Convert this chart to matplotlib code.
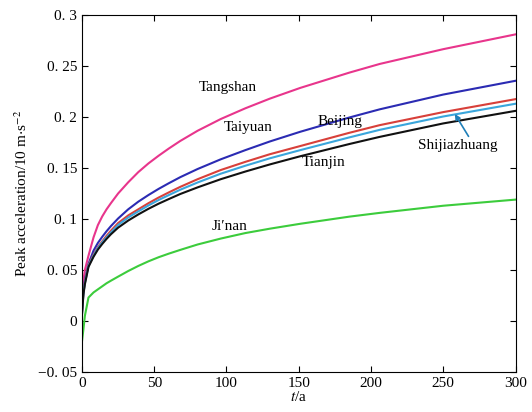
#!/usr/bin/env python3
"""
Peak acceleration vs. return period for six cities
Usage: python plot.py
"""

import matplotlib
matplotlib.use('Agg')
import matplotlib.pyplot as plt

# Time axis (years) shared by all curves
t_years = [0, 1, 2, 4.5, 8, 11, 14, 17, 20, 25, 32, 39, 46, 53, 60, 68, 80, 96,
           113, 130, 151, 185, 206, 250, 300]

# Peak acceleration per city (10 m/s^2)
tangshan = [0.024, 0.040, 0.050, 0.064, 0.082, 0.094, 0.1025, 0.1095, 0.1155, 0.125,
            0.136, 0.146, 0.1545, 0.162, 0.169, 0.1765, 0.1865, 0.198,
            0.2085, 0.218, 0.2285, 0.2435, 0.252, 0.2665, 0.281]
taiyuan = [0.010, 0.030, 0.040, 0.056, 0.069, 0.0765, 0.0825, 0.088, 0.093, 0.1005,
           0.1095, 0.117, 0.1235, 0.1295, 0.135, 0.141, 0.149, 0.1585,
           0.1675, 0.176, 0.1855, 0.1995, 0.2075, 0.222, 0.2355]
beijing = [0.008, 0.028, 0.038, 0.055, 0.065, 0.0725, 0.078, 0.0835, 0.0885, 0.096,
           0.1035, 0.1095, 0.1155, 0.121, 0.126, 0.1315, 0.139, 0.148,
           0.156, 0.1635, 0.1715, 0.1845, 0.192, 0.2048, 0.2175]
shijiazhuang = [0.007, 0.027, 0.037, 0.054, 0.064, 0.0715, 0.077, 0.082, 0.0867, 0.0942,
                0.1015, 0.1075, 0.1133, 0.1186, 0.1234, 0.1287, 0.1358, 0.1444,
                0.1522, 0.1595, 0.1675, 0.180, 0.1874, 0.2005, 0.213]
tianjin = [0.006, 0.026, 0.036, 0.053, 0.063, 0.070, 0.0755, 0.0805, 0.085, 0.0915,
           0.0985, 0.1045, 0.110, 0.115, 0.1195, 0.1245, 0.131, 0.139,
           0.1465, 0.1535, 0.1615, 0.1735, 0.1805, 0.1937, 0.206]
jinan = [-0.020, -0.008, 0.005, 0.023, 0.028, 0.031, 0.034, 0.037, 0.0395, 0.0435,
         0.049, 0.054, 0.0585, 0.0625, 0.066, 0.0697, 0.075, 0.0808,
         0.0862, 0.0905, 0.0953, 0.1023, 0.106, 0.113, 0.119]

x_ticks = [0, 50, 100, 150, 200, 250, 300]
y_ticks = [-0.05, 0, 0.05, 0.1, 0.15, 0.2, 0.25, 0.3]
y_tick_labels = ['\u22120. 05', '0', '0. 05', '0. 1', '0. 15', '0. 2', '0. 25', '0. 3']


def plot_peak_acceleration():
    """Draw the six city curves with in-plot labels"""
    plt.rcParams['font.family'] = ['Liberation Serif', 'DejaVu Serif']
    plt.rcParams['mathtext.fontset'] = 'stix'

    fig = plt.figure(figsize=(5.32, 4.12), dpi=100)
    ax = fig.add_axes([0.1541, 0.0971, 0.8149, 0.8665])

    curves = [
        (tangshan, '#e8358c'),
        (taiyuan, '#2b2bb3'),
        (beijing, '#d8403a'),
        (shijiazhuang, '#3aa6dc'),
        (tianjin, '#111111'),
        (jinan, '#3ccc3c'),
    ]
    for values, color in curves:
        ax.plot(t_years, values, color=color, linewidth=1.5)

    # City names placed next to the curves
    ax.text(100.6, 0.229, 'Tangshan', fontsize=11, ha='center', va='center')
    ax.text(114.7, 0.190, 'Taiyuan', fontsize=11, ha='center', va='center')
    ax.text(178.6, 0.196, 'Beijing', fontsize=11, ha='center', va='center')
    ax.text(167, 0.155, 'Tianjin', fontsize=11, ha='center', va='center')
    ax.text(102, 0.093, 'Ji\u2032nan', fontsize=11, ha='center', va='center')
    ax.text(260, 0.172, 'Shijiazhuang', fontsize=11, ha='center', va='center')

    # Pointer from the Shijiazhuang label to its curve
    ax.annotate('', xy=(258, 0.203), xytext=(267.5, 0.181),
                arrowprops=dict(arrowstyle='-|>', color='#1f7fb8', lw=1.2,
                                mutation_scale=8, shrinkA=0, shrinkB=0))

    ax.set_xlim(0, 300)
    ax.set_ylim(-0.05, 0.3)
    ax.set_xticks(x_ticks)
    ax.set_xticklabels([str(v) for v in x_ticks])
    ax.set_yticks(y_ticks)
    ax.set_yticklabels(y_tick_labels)
    ax.tick_params(direction='in', top=True, right=True, length=4, labelsize=11)

    ax.set_xlabel('$t$/a', fontsize=11, labelpad=0)
    ax.set_ylabel('Peak acceleration/10 m$\\cdot$s$^{-2}$', fontsize=11, labelpad=6)

    fig.savefig('out.png', dpi=100)
    print("Plot saved as: out.png")


def main():
    plot_peak_acceleration()


if __name__ == "__main__":
    main()
